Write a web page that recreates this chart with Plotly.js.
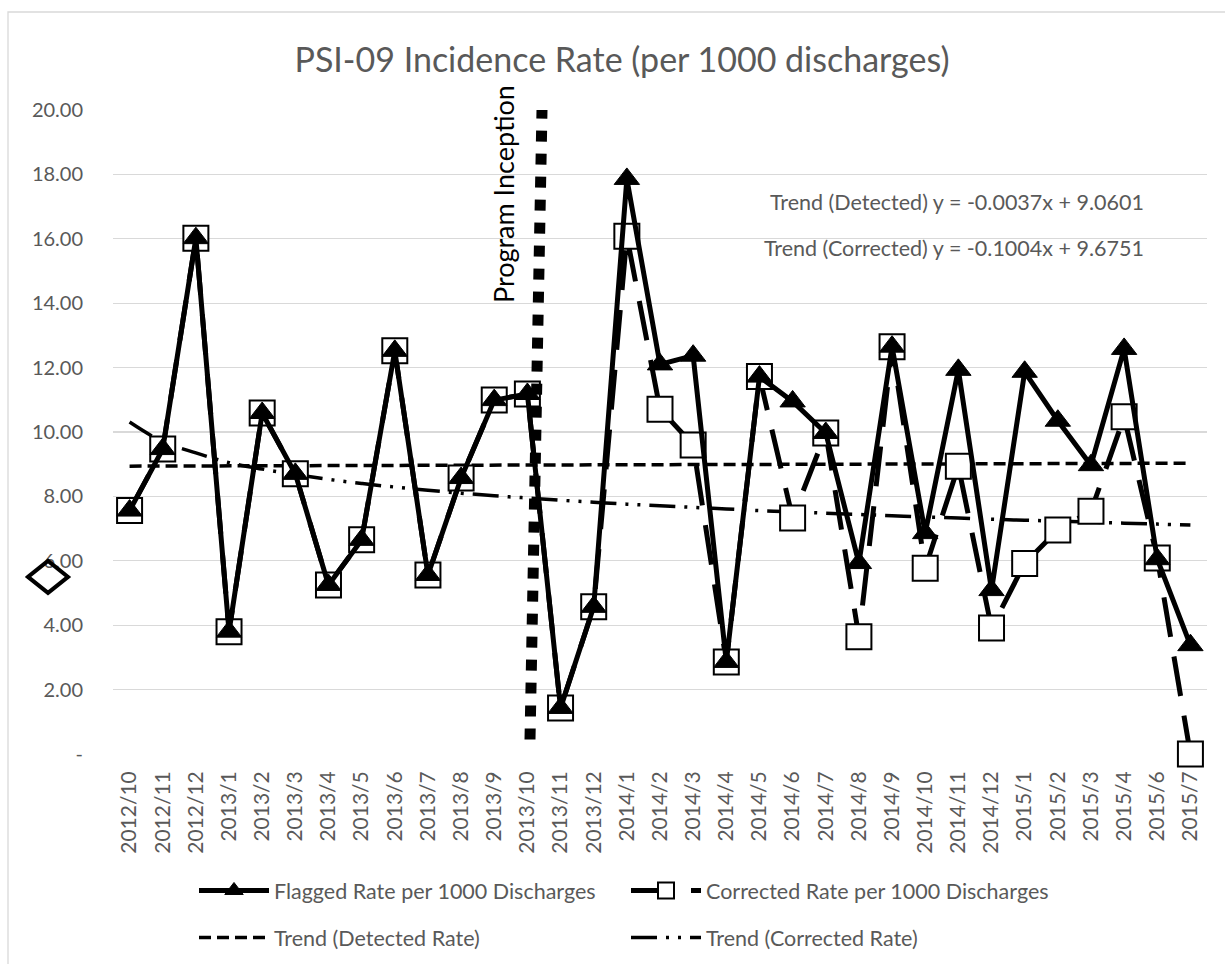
<!DOCTYPE html>
<html>
<head>
<meta charset="utf-8">
<script src="https://cdn.plot.ly/plotly-3.0.1.min.js"></script>
<style>
  html, body { margin: 0; padding: 0; background: #ffffff; }
  #chart { width: 1225px; height: 964px; }
</style>
</head>
<body>
<div id="chart"></div>
<script>
// ---- data ----
const months = ["2012/10","2012/11","2012/12","2013/1","2013/2","2013/3","2013/4","2013/5","2013/6","2013/7","2013/8","2013/9","2013/10","2013/11","2013/12","2014/1","2014/2","2014/3","2014/4","2014/5","2014/6","2014/7","2014/8","2014/9","2014/10","2014/11","2014/12","2015/1","2015/2","2015/3","2015/4","2015/6","2015/7"];

const flaggedRate = [7.56, 9.47, 16.02, 3.80, 10.59, 8.70, 5.25, 6.65, 12.52, 5.56, 8.57, 10.99, 11.18, 1.43, 4.57, 17.86, 12.10, 12.37, 2.86, 11.72, 10.95, 9.97, 5.93, 12.65, 6.86, 11.93, 5.09, 11.87, 10.35, 8.97, 12.58, 6.05, 3.38];

const correctedRate = [7.56, 9.47, 16.02, 3.80, 10.59, 8.70, 5.25, 6.65, 12.52, 5.56, 8.57, 10.99, 11.18, 1.43, 4.57, 16.08, 10.71, 9.60, 2.86, 11.72, 7.33, 9.97, 3.64, 12.65, 5.77, 8.94, 3.91, 5.92, 6.96, 7.54, 10.47, 6.09, 0.00];

// trend (detected rate): end points
const trendDetectedX = ["2012/10", "2015/7"];
const trendDetectedY = [8.94, 9.03];

// trend (corrected rate): curve values read at every month
const trendCorrected = [10.31, 9.70, 9.35, 9.05, 8.85, 8.68, 8.53, 8.40, 8.29, 8.19, 8.10, 8.02, 7.95, 7.88, 7.82, 7.76, 7.71, 7.66, 7.61, 7.56, 7.52, 7.48, 7.44, 7.40, 7.36, 7.33, 7.29, 7.26, 7.23, 7.20, 7.17, 7.14, 7.11];

const yTickVals = [0, 2, 4, 6, 8, 10, 12, 14, 16, 18, 20];
const yTickText = ["-", "2.00", "4.00", "6.00", "8.00", "10.00", "12.00", "14.00", "16.00", "18.00", "20.00"];

const seriesNames = ["Flagged Rate per 1000 Discharges", "Corrected Rate per 1000 Discharges", "Trend (Detected Rate)", "Trend (Corrected Rate)"];
const titleText = "PSI-09 Incidence Rate (per 1000 discharges)";
const eqDetected = "Trend (Detected) y = -0.0037x + 9.0601";
const eqCorrected = "Trend (Corrected) y = -0.1004x + 9.6751";
const inceptionLabel = "Program Inception";

// ---- chart ----
const FONT = "Lato, 'Open Sans', sans-serif";
const GRAY = "#595959";

const traces = [
  {
    name: seriesNames[2], x: trendDetectedX, y: trendDetectedY,
    type: "scatter", mode: "lines",
    line: {color: "#000000", width: 3.5, dash: "12px,6px"},
    legend: "legend2", legendrank: 1
  },
  {
    name: seriesNames[3], x: months, y: trendCorrected,
    type: "scatter", mode: "lines",
    line: {color: "#000000", width: 3.5, dash: "26px,9px,3px,9px,3px,9px", shape: "spline"},
    legend: "legend2", legendrank: 2
  },
  {
    name: seriesNames[1], x: months, y: correctedRate,
    type: "scatter", mode: "lines+markers",
    line: {color: "#000000", width: 5, dash: "40px,20px"},
    marker: {symbol: "square", size: 25, color: "#ffffff", line: {color: "#000000", width: 2}},
    cliponaxis: false, legendrank: 2
  },
  {
    name: seriesNames[0], x: months, y: flaggedRate,
    type: "scatter", mode: "lines+markers",
    line: {color: "#000000", width: 5},
    marker: {symbol: "triangle-up", size: 22, color: "#000000", line: {color: "#000000", width: 1}},
    cliponaxis: false, legendrank: 1
  }
];

const L = 113, R = 18, T = 110, B = 210, W = 1225, H = 964;
const PW = W - L - R, PH = H - T - B;
const px2paperX = p => (p - L) / PW;
const px2paperY = p => (H - B - p) / PH;

const layout = {
  width: W, height: H,
  margin: {l: L, r: R, t: T, b: B, pad: 0, autoexpand: false},
  paper_bgcolor: "#ffffff", plot_bgcolor: "#ffffff",
  font: {family: FONT, color: GRAY},
  title: {
    text: titleText,
    font: {family: FONT, size: 34, color: GRAY},
    x: 622 / W, xanchor: "center", xref: "container",
    y: 1 - 60 / H, yanchor: "middle", yref: "container"
  },
  xaxis: {
    type: "category", categoryorder: "array", categoryarray: months,
    range: [-0.5, months.length - 0.5], autorange: false,
    tickangle: -90, tickfont: {family: FONT, size: 21, color: GRAY},
    showgrid: false, zeroline: false, showline: false, ticks: "",
    ticklabelstandoff: 12
  },
  yaxis: {
    range: [0, 20], autorange: false, tickmode: "array", tickvals: yTickVals, ticktext: yTickText,
    tickfont: {family: FONT, size: 20, color: GRAY},
    showgrid: true, gridcolor: "#d9d9d9", gridwidth: 1.3,
    zeroline: false, showline: false, ticks: "",
    ticklabelstandoff: 29
  },
  showlegend: true,
  legend: {
    orientation: "h", x: px2paperX(194), xanchor: "left",
    y: px2paperY(870), yanchor: "top",
    entrywidth: 347, entrywidthmode: "pixels", itemwidth: 70,
    font: {family: FONT, size: 21.5, color: GRAY}, bgcolor: "rgba(0,0,0,0)"
  },
  legend2: {
    orientation: "h", x: px2paperX(194), xanchor: "left",
    y: px2paperY(917), yanchor: "top",
    entrywidth: 347, entrywidthmode: "pixels", itemwidth: 70,
    font: {family: FONT, size: 21.5, color: GRAY}, bgcolor: "rgba(0,0,0,0)"
  },
  annotations: [
    {text: eqDetected, xref: "paper", x: px2paperX(1146), xanchor: "right",
     yref: "y", y: 17.14, yanchor: "middle", showarrow: false,
     font: {family: FONT, size: 21.5, color: GRAY}},
    {text: eqCorrected, xref: "paper", x: px2paperX(1146), xanchor: "right",
     yref: "y", y: 15.71, yanchor: "middle", showarrow: false,
     font: {family: FONT, size: 21.5, color: GRAY}},
    {text: inceptionLabel, xref: "paper", x: px2paperX(503), xanchor: "center",
     yref: "y", y: 17.39, yanchor: "middle", textangle: -90, showarrow: false,
     font: {family: FONT, size: 27, color: "#000000"}}
  ],
  shapes: [
    // chart-area border
    {type: "rect", xref: "paper", yref: "paper",
     x0: px2paperX(8), x1: px2paperX(1240), y0: px2paperY(990), y1: px2paperY(12),
     line: {color: "#d9d9d9", width: 1.3}, fillcolor: "rgba(0,0,0,0)", layer: "below"},
    // program inception marker line
    {type: "line", xref: "paper", yref: "y",
     x0: px2paperX(530), y0: 0.45, x1: px2paperX(542), y1: 20,
     line: {color: "#000000", width: 11, dash: "11px,12px"}, layer: "above"},
    // stray diamond at left
    {type: "path", xref: "paper", yref: "y",
     xsizemode: "pixel", ysizemode: "pixel",
     xanchor: px2paperX(48), yanchor: 5.5,
     path: "M-20,0 L0,16 L20,0 L0,-16 Z",
     line: {color: "#000000", width: 4}, fillcolor: "rgba(0,0,0,0)", layer: "above"}
  ]
};

Plotly.newPlot("chart", traces, layout, {staticPlot: true, displayModeBar: false});
</script>
</body>
</html>
